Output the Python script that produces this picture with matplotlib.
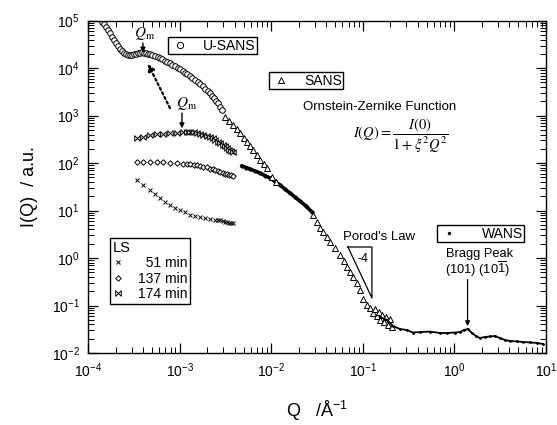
import numpy as np
import matplotlib
matplotlib.use("Agg")
import matplotlib.pyplot as plt
from matplotlib.path import Path
from matplotlib.lines import Line2D

plt.rcParams['font.family'] = ['Liberation Sans', 'DejaVu Sans']
plt.rcParams['mathtext.fontset'] = 'custom'
plt.rcParams['mathtext.rm'] = 'Liberation Sans'
plt.rcParams['mathtext.it'] = 'Liberation Sans:italic'
plt.rcParams['mathtext.bf'] = 'Liberation Sans:bold'

# ---------------- data ----------------
usans_q = [1.42e-4, 1.50e-4, 1.57e-4, 1.65e-4, 1.74e-4, 1.83e-4, 1.92e-4, 2.02e-4, 2.13e-4,
           2.24e-4, 2.35e-4, 2.47e-4, 2.60e-4, 2.73e-4, 2.87e-4, 3.02e-4, 3.18e-4, 3.35e-4,
           3.52e-4, 3.70e-4, 3.89e-4, 4.10e-4, 4.30e-4, 4.52e-4, 4.75e-4, 5.05e-4, 5.4e-4,
           5.75e-4, 6.11e-4, 6.5e-4, 6.9e-4, 7.35e-4, 7.85e-4, 8.35e-4, 8.9e-4, 9.5e-4,
           1.01e-3, 1.08e-3, 1.15e-3, 1.22e-3, 1.30e-3, 1.38e-3, 1.47e-3, 1.57e-3, 1.67e-3,
           1.78e-3, 1.9e-3, 2.02e-3, 2.15e-3, 2.27e-3, 2.4e-3, 2.51e-3, 2.62e-3, 2.75e-3, 2.9e-3]
usans_i = [9.4e4, 8.4e4, 7.4e4, 6.4e4, 5.5e4, 4.6e4, 3.9e4, 3.35e4, 2.9e4,
           2.55e4, 2.3e4, 2.1e4, 2.0e4, 1.93e4, 1.9e4, 1.92e4, 1.95e4, 2.0e4,
           2.05e4, 2.1e4, 2.15e4, 2.13e4, 2.1e4, 2.03e4, 1.95e4, 1.88e4, 1.8e4,
           1.72e4, 1.64e4, 1.55e4, 1.45e4, 1.37e4, 1.28e4, 1.19e4, 1.1e4, 1.03e4,
           9.6e3, 8.8e3, 8.1e3, 7.4e3, 6.8e3, 6.2e3, 5.6e3, 5.1e3, 4.6e3,
           4.15e3, 3.7e3, 3.35e3, 3.0e3, 2.65e3, 2.3e3, 2.05e3, 1.85e3, 1.55e3, 1.3e3]

sans_q = [3.13e-3, 3.46e-3, 3.83e-3, 4.23e-3, 4.56e-3, 5.04e-3, 5.44e-3, 5.87e-3,
          6.33e-3, 7.0e-3, 7.55e-3, 8.34e-3, 9.0e-3, 1.02e-2, 1.13e-2,
          2.86e-2, 3.16e-2, 3.41e-2, 3.68e-2, 4.06e-2, 4.38e-2, 4.97e-2, 5.64e-2,
          6.23e-2, 6.72e-2, 7.25e-2, 7.82e-2, 8.64e-2, 9.32e-2, 0.1005,
          0.111, 0.120, 0.129, 0.136, 0.143, 0.150, 0.154, 0.162, 0.170,
          0.180, 0.188, 0.198, 0.208]
sans_i = [950, 771, 635, 523, 431, 346, 282, 229,
          189, 148, 116, 95.7, 78.8, 51.7, 40,
          8.07, 5.83, 4.30, 3.54, 2.77, 2.21, 1.63, 1.16,
          0.867, 0.658, 0.508, 0.405, 0.298, 0.212, 0.137,
          0.105, 0.088, 0.070, 0.085, 0.060, 0.072, 0.050, 0.064, 0.045,
          0.058, 0.038, 0.052, 0.036]

sans2_q = [4.80e-3, 5.31e-3, 5.87e-3, 6.65e-3, 7.55e-3, 8.55e-3, 9.70e-3, 1.10e-2,
           1.25e-2, 1.41e-2, 1.60e-2, 1.82e-2, 2.06e-2, 2.40e-2, 2.79e-2]
sans2_i = [86.9, 80.8, 75.2, 68.2, 61.9, 54.8, 48.6, 41.0,
           34.6, 28.5, 23.5, 19.3, 15.9, 12.5, 9.33]

wans_q = [0.154, 0.184, 0.214, 0.255, 0.304, 0.353, 0.421, 0.541, 0.696, 0.830,
          1.015, 1.151, 1.273, 1.408, 1.556, 1.722, 1.904, 2.158, 2.447, 2.773,
          3.146, 3.565, 4.045, 4.82, 5.61, 6.69, 7.98, 9.27]
wans_i = [0.0573, 0.0495, 0.0371, 0.0320, 0.0305, 0.0270, 0.0276, 0.0283, 0.0264, 0.0264,
          0.0270, 0.0276, 0.0305, 0.0320, 0.0264, 0.0228, 0.0207, 0.0217, 0.0223, 0.0228,
          0.0207, 0.0188, 0.0179, 0.0175, 0.0171, 0.0167, 0.0163, 0.0155]

ls174_q = [3.43e-4, 3.98e-4, 4.75e-4, 5.67e-4, 6.59e-4, 7.85e-4, 9.37e-4, 1.09e-3,
           1.2e-3, 1.30e-3, 1.42e-3, 1.55e-3, 1.67e-3, 1.80e-3, 1.97e-3, 2.15e-3, 2.3e-3,
           2.44e-3, 2.6e-3, 2.76e-3, 2.95e-3, 3.13e-3, 3.3e-3, 3.46e-3, 3.65e-3, 3.83e-3]
ls174_i = [338, 355, 391, 410, 420, 431, 441, 452,
           452, 452, 443, 431, 415, 400, 378, 355, 330,
           307, 285, 265, 245, 224, 208, 193.5, 181, 171]

ls137_q = [3.43e-4, 3.98e-4, 4.75e-4, 5.67e-4, 6.59e-4, 7.85e-4, 9.37e-4, 1.09e-3,
           1.2e-3, 1.30e-3, 1.42e-3, 1.55e-3, 1.67e-3, 1.80e-3, 1.97e-3, 2.15e-3, 2.3e-3,
           2.44e-3, 2.6e-3, 2.76e-3, 2.95e-3, 3.13e-3, 3.3e-3, 3.46e-3, 3.65e-3, 3.83e-3]
ls137_i = [105.5, 105.5, 105.5, 105.5, 105.5, 103, 100.5, 98,
           97, 95.7, 93.5, 91.2, 88, 84.8, 81, 77, 74,
           71.6, 68, 65, 62.5, 60.4, 59, 57.5, 56, 54.8]

ls51_q = [3.43e-4, 3.98e-4, 4.75e-4, 5.39e-4, 6.11e-4, 6.93e-4, 7.85e-4, 8.91e-4, 1.01e-3,
          1.145e-3, 1.30e-3, 1.47e-3, 1.67e-3, 1.895e-3, 2.15e-3, 2.44e-3, 2.6e-3, 2.76e-3,
          2.95e-3, 3.13e-3, 3.3e-3, 3.46e-3, 3.65e-3, 3.83e-3]
ls51_i = [44.1, 34.6, 27.1, 22.3, 18.4, 15.2, 13.1, 11.6, 10.3,
          9.12, 8.26, 7.69, 7.33, 6.98, 6.65, 6.34, 6.27, 6.19,
          6.05, 5.89, 5.75, 5.61, 5.55, 5.47]

ls_labels = ['  51 min', '137 min', '174 min']
x_ticks = [1e-4, 1e-3, 1e-2, 1e-1, 1e0, 1e1]
y_ticks = [1e-2, 1e-1, 1e0, 1e1, 1e2, 1e3, 1e4, 1e5]

# ---------------- figure ----------------
fig = plt.figure(figsize=(5.57, 4.25), dpi=100)
ax = fig.add_axes([0.158, 0.1694, 0.822, 0.7819])
ax.set_xscale('log')
ax.set_yscale('log')
ax.set_xlim(1e-4, 1e1)
ax.set_ylim(1e-2, 1e5)

bowtie = Path([(-1, 1), (1, -1), (1, 1), (-1, -1), (-1, 1)],
              [Path.MOVETO, Path.LINETO, Path.LINETO, Path.LINETO, Path.CLOSEPOLY])

ax.plot(usans_q, usans_i, 'o', mfc='white', mec='k', ms=4, mew=0.7, ls='none')
ax.plot(sans2_q, sans2_i, '-', color='k', lw=2.6, marker='o', ms=2, mfc='k', mec='k')
ax.plot(sans_q, sans_i, '^', mfc='white', mec='k', ms=3.8, mew=0.7, ls='none')
ax.plot(wans_q, wans_i, '-', color='k', lw=1.3, marker='.', ms=2)
h51, = ax.plot(ls51_q, ls51_i, 'x', color='k', ms=3.5, mew=0.7, ls='none')
h137, = ax.plot(ls137_q, ls137_i, 'D', mfc='white', mec='k', ms=2.8, mew=0.7, ls='none')
h174, = ax.plot(ls174_q, ls174_i, marker=bowtie, mfc='white', mec='k', ms=4, mew=0.7, ls='none')

ax.set_xticks(x_ticks)
ax.set_yticks(y_ticks)
ax.tick_params(which='both', direction='in', top=True, right=True, labelsize=10)
ax.tick_params(which='major', length=7, width=0.9, pad=6)
ax.tick_params(which='minor', length=4, width=0.7)
for s in ax.spines.values():
    s.set_linewidth(1.0)

ax.set_xlabel(r'Q   /Å$^{-1}$', fontsize=13, labelpad=14)
ax.set_ylabel('I(Q)  / a.u.', fontsize=13, labelpad=10)

# ---------------- legends ----------------
common = dict(frameon=True, fancybox=False, edgecolor='k', framealpha=1,
              fontsize=10, borderaxespad=0, handlelength=1.5, handletextpad=0.9,
              borderpad=0.12)
h_us_leg = Line2D([], [], marker='o', mfc='white', mec='k', ms=4.5, mew=0.7, ls='none')
h_sa_leg = Line2D([], [], marker='^', mfc='white', mec='k', ms=4.5, mew=0.7, ls='none')
h_wa_leg = Line2D([], [], marker='.', color='k', ms=3, ls='none')
l1 = ax.legend([h_us_leg], ['U-SANS'], loc='upper left', bbox_to_anchor=(0.175, 0.951), **common)
l1.get_frame().set_linewidth(1.0)
ax.add_artist(l1)
l2 = ax.legend([h_sa_leg], ['SANS'], loc='upper left', bbox_to_anchor=(0.395, 0.846), **common)
l2.get_frame().set_linewidth(1.0)
ax.add_artist(l2)
l3 = ax.legend([h_wa_leg], ['WANS'], loc='upper left', bbox_to_anchor=(0.762, 0.385),
               **{**common, 'handletextpad': 1.6})
l3.get_frame().set_linewidth(1.0)
ax.add_artist(l3)
l4 = ax.legend([h51, h137, h174], ls_labels, loc='upper left', bbox_to_anchor=(0.048, 0.346),
               title='LS', alignment='left', frameon=True, fancybox=False, edgecolor='k',
               framealpha=1, fontsize=10, title_fontsize=10.5, borderaxespad=0,
               handlelength=0.8, handletextpad=1.0, borderpad=0.2, labelspacing=0.1)
l4.get_frame().set_linewidth(1.0)

# ---------------- annotations ----------------
ta = ax.transAxes
ax.text(0.1245, 0.960, r'$Q_{\rm m}$', transform=ta, ha='center', va='center',
        fontsize=11, math_fontfamily='stix')
ax.annotate('', xy=(0.120, 0.904), xytext=(0.120, 0.933), xycoords=ta, textcoords=ta,
            arrowprops=dict(arrowstyle='-|>', color='k', lw=1.0, mutation_scale=7,
                            shrinkA=0, shrinkB=0))
ax.text(0.216, 0.750, r'$Q_{\rm m}$', transform=ta, ha='center', va='center',
        fontsize=11, math_fontfamily='stix')
ax.annotate('', xy=(0.2052, 0.676), xytext=(0.2052, 0.722), xycoords=ta, textcoords=ta,
            arrowprops=dict(arrowstyle='-|>', color='k', lw=1.0, mutation_scale=7,
                            shrinkA=0, shrinkB=0))
ax.annotate('', xy=(0.131, 0.870), xytext=(0.179, 0.737), xycoords=ta, textcoords=ta,
            arrowprops=dict(arrowstyle='-|>', color='k', lw=1.6, ls=(0, (1, 1.3)),
                            mutation_scale=10, shrinkA=0, shrinkB=0))

ax.text(0.6376, 0.740, 'Ornstein-Zernike Function', transform=ta, ha='center', va='center',
        fontsize=9.5)
ax.text(0.683, 0.652, r'$I(Q) = \dfrac{I(0)}{1 + \xi^2 Q^2}$', transform=ta,
        ha='center', va='center', fontsize=10.5, math_fontfamily='stix')

ax.text(0.557, 0.349, "Porod's Law", transform=ta, ha='left', va='center', fontsize=9.5)
ax.plot([0.5677, 0.6201, 0.6201, 0.5677], [0.319, 0.319, 0.1655, 0.319], transform=ta,
        color='k', lw=0.9, clip_on=False)
ax.text(0.6004, 0.283, '-4', transform=ta, ha='center', va='center', fontsize=9)

ax.text(0.856, 0.298, 'Bragg Peak', transform=ta, ha='center', va='center', fontsize=9.3)
ax.text(0.8515, 0.252, r'(101) (10$\overline{1}$)', transform=ta, ha='center', va='center',
        fontsize=9.3)
ax.annotate('', xy=(0.829, 0.081), xytext=(0.829, 0.221), xycoords=ta, textcoords=ta,
            arrowprops=dict(arrowstyle='-|>', color='k', lw=0.9, mutation_scale=7,
                            shrinkA=0, shrinkB=0))

fig.savefig('out.png', dpi=100)
